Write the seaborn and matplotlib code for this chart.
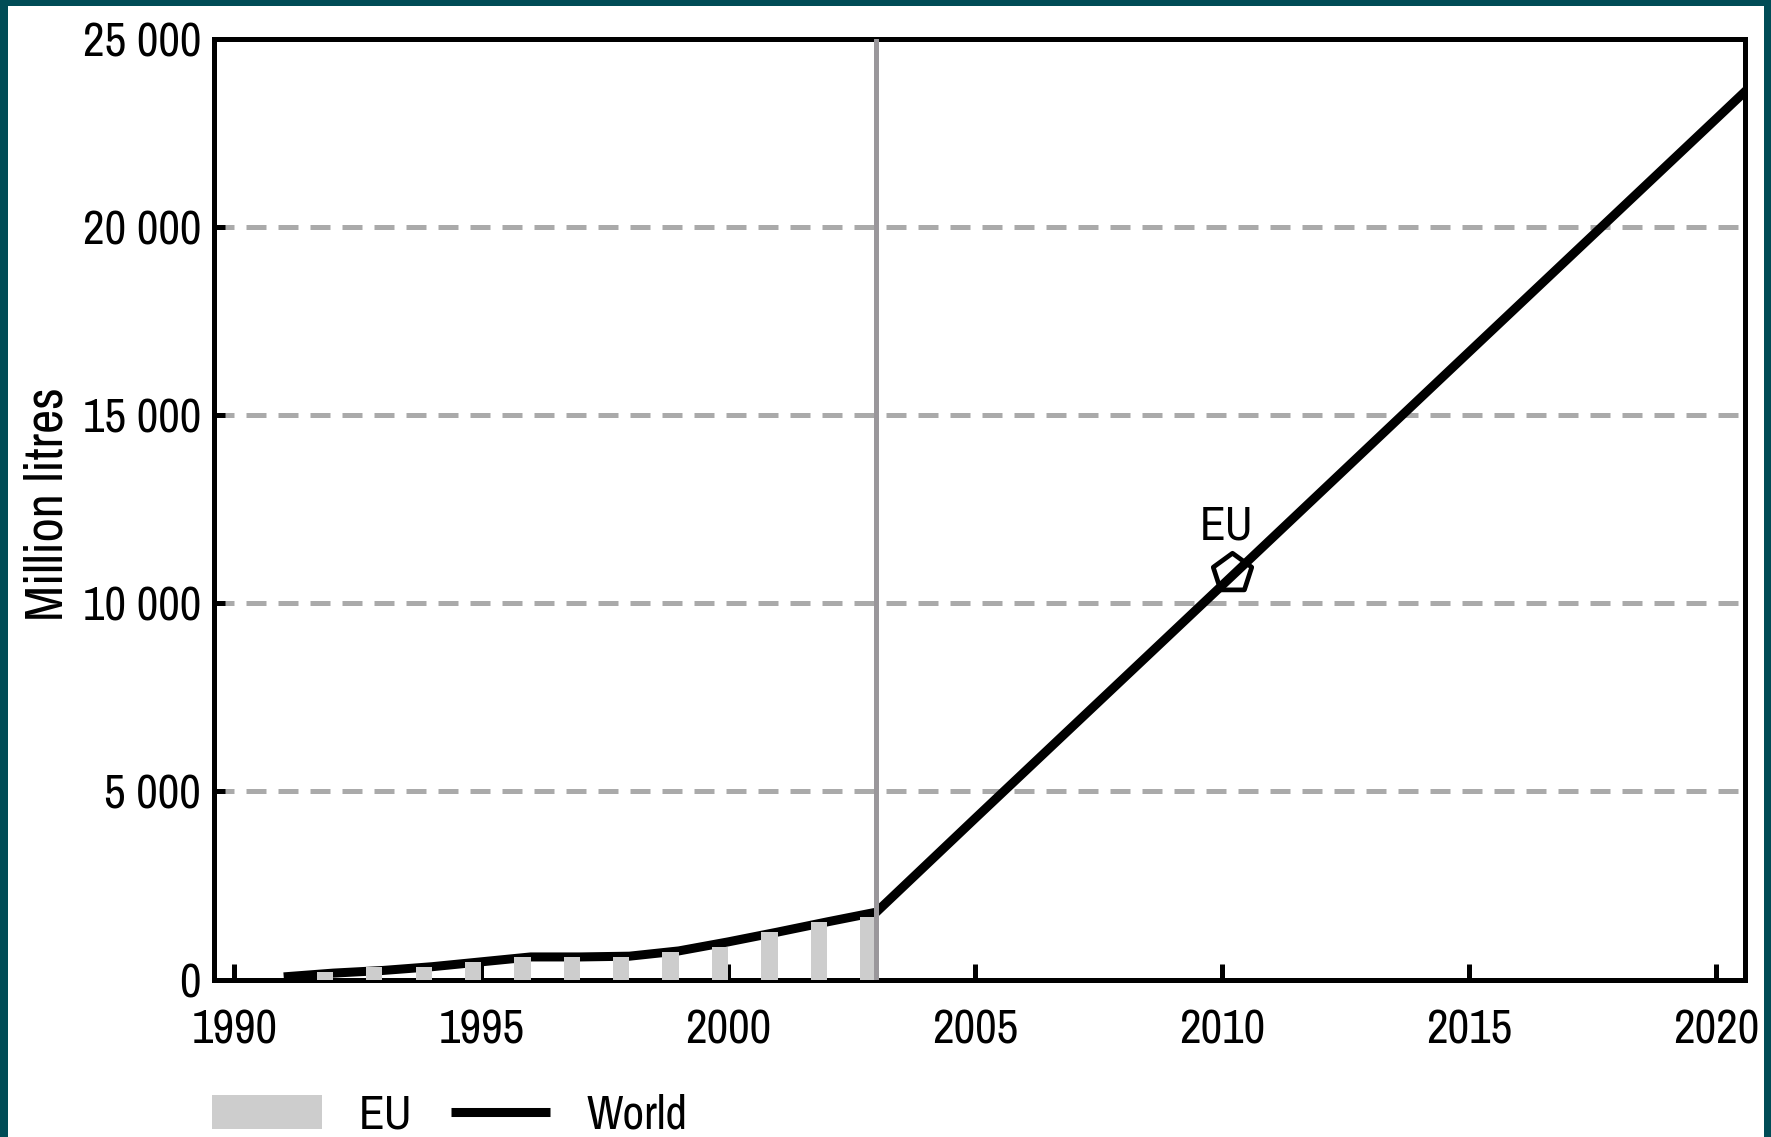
"""Biodiesel production: EU bars vs. world line, with EU 2010 marker."""

import matplotlib
matplotlib.use("Agg")
import matplotlib.pyplot as plt
from matplotlib import font_manager
from matplotlib.legend_handler import HandlerLine2D
from matplotlib.lines import Line2D
from matplotlib.patches import Patch, Rectangle
import pandas as pd
import seaborn as sns

sns.set_theme(style="white")

# --------------------------------------------------------------------------
# Data
# --------------------------------------------------------------------------

EU_YEARS = [1992, 1993, 1994, 1995, 1996, 1997, 1998, 1999, 2000, 2001, 2002, 2003]
EU_VALUES = [190, 320, 320, 465, 600, 600, 600, 730, 865, 1260, 1530, 1660]

WORLD_YEARS = [1991, 1992, 1993, 1994, 1995, 1996, 1997, 1998, 1999, 2000, 2001, 2002,
               2003, 2005, 2010, 2015, 2020, 2021]
WORLD_VALUES = [70, 170, 240, 340, 470, 600, 600, 620, 760, 1000, 1260, 1530,
                1790, 4280, 10470, 16670, 22860, 24100]

EU_TARGET_YEAR = 2010.2
EU_TARGET_VALUE = 10800
EU_TARGET_LABEL = "EU"

CUTOFF_YEAR = 2003

X_TICKS = [1990, 1995, 2000, 2005, 2010, 2015, 2020]
Y_TICKS = [0, 5000, 10000, 15000, 20000, 25000]
Y_TICK_LABELS = ["0", "5 000", "10 000", "15 000", "20 000", "25 000"]
Y_LABEL = "Million litres"
LEGEND_LABELS = ["EU", "World"]

# --------------------------------------------------------------------------
# Style
# --------------------------------------------------------------------------

TEAL = "#004c56"
BAR_GREY = "#cdcdcd"
LINE_GREY = "#9a979b"
GRID_GREY = "#aaaaaa"

# the original uses a narrow face; take one if any is installed
narrow = [f.name for f in font_manager.fontManager.ttflist
          if any(k in f.name for k in ("Narrow", "Condensed"))]
if narrow:
    plt.rcParams["font.family"] = [sorted(narrow)[0], "DejaVu Sans"]
    FS = 34
else:
    plt.rcParams["font.family"] = ["DejaVu Sans"]
    FS = 27
plt.rcParams["text.color"] = "black"
plt.rcParams["xtick.color"] = "black"
plt.rcParams["ytick.color"] = "black"
plt.rcParams["axes.labelcolor"] = "black"
EM = FS * 100 / 72  # font size in pixels


class ShortLine(HandlerLine2D):
    """Legend line that is a bit shorter than the grey patch, right-aligned."""

    def get_xdata(self, legend, xdescent, ydescent, width, height, fontsize):
        x0 = -xdescent + 0.1 * width
        x1 = -xdescent + width
        return [x0, x1], [x0, x1]


fig = plt.figure(figsize=(17.71, 11.37), dpi=100)
fig.patch.set_facecolor(TEAL)
fig.add_artist(Rectangle((8 / 1771, 0), (1764 - 8) / 1771, 1 - 6 / 1137,
                         transform=fig.transFigure, facecolor="white",
                         edgecolor="none", zorder=0))

ax = fig.add_axes([0.1206, 0.1385, 0.8650, 0.8276])
ax.set_facecolor("white")

world = pd.DataFrame({"year": WORLD_YEARS, "value": WORLD_VALUES})
sns.lineplot(data=world, x="year", y="value", color="black", linewidth=6.5,
             ax=ax, zorder=3, solid_capstyle="butt")

ax.bar(EU_YEARS, EU_VALUES, width=-0.33, align="edge", color=BAR_GREY,
       linewidth=0, zorder=4)

ax.axvline(CUTOFF_YEAR, color=LINE_GREY, linewidth=3.6, zorder=5)

sns.scatterplot(x=[EU_TARGET_YEAR], y=[EU_TARGET_VALUE], marker="p", s=850,
                facecolor="white", edgecolor="black", linewidth=3.4,
                ax=ax, zorder=2.5)
ax.text(EU_TARGET_YEAR - 0.1, 12050, EU_TARGET_LABEL, fontsize=FS,
        ha="center", va="center")

ax.set_xlim(1989.58, 2020.6)
ax.set_ylim(0, 25000)
ax.set_xticks(X_TICKS)
ax.set_yticks(Y_TICKS)
ax.set_yticklabels(Y_TICK_LABELS)

ax.yaxis.grid(True, color=GRID_GREY, linewidth=3.6, linestyle=(0, (4, 2.4)))
ax.xaxis.grid(False)
ax.set_axisbelow(True)

for side in ["left", "right", "top", "bottom"]:
    ax.spines[side].set_visible(True)
    ax.spines[side].set_color("black")
    ax.spines[side].set_linewidth(3.6)

ax.tick_params(axis="x", direction="in", length=11.5, width=3.6,
               labelsize=FS, pad=21, bottom=True)
ax.tick_params(axis="y", direction="in", length=8, width=3.6,
               labelsize=FS, pad=9, left=True)

ax.set_xlabel("")
ax.set_ylabel(Y_LABEL, fontsize=FS * 1.12)
ax.yaxis.set_label_coords(-0.093, 0.505)

handles = [Patch(facecolor=BAR_GREY, edgecolor="none"),
           Line2D([0], [0], color="black", linewidth=6.5, solid_capstyle="butt")]
fig.legend(handles, LEGEND_LABELS, loc="center left",
           bbox_to_anchor=(212 / 1771, 1 - 1115 / 1137), ncol=2, frameon=False,
           fontsize=FS, handlelength=110 / EM, handleheight=0.72,
           handletextpad=37 / EM, columnspacing=27 / EM,
           borderpad=0, borderaxespad=0, handler_map={Line2D: ShortLine()})

fig.savefig("out.png", dpi=100, facecolor=fig.get_facecolor())
